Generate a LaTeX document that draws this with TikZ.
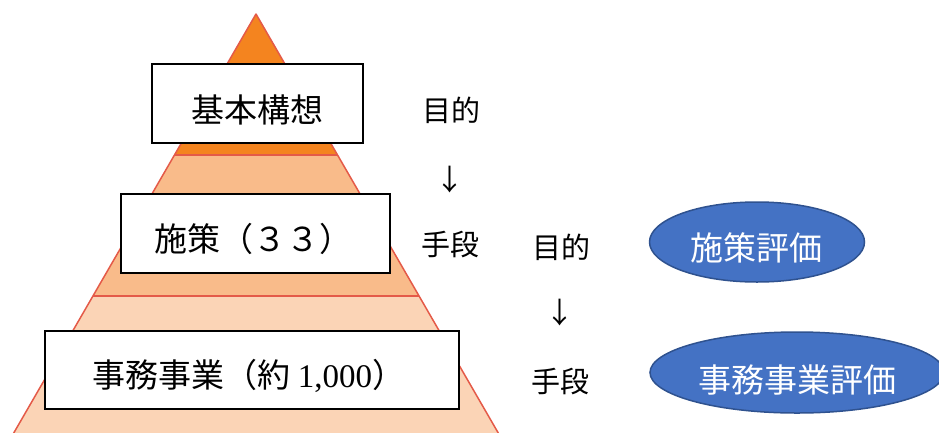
\documentclass[tikz,border=0pt]{standalone}
\usepackage{fontspec}
\setmainfont{Liberation Serif}
\newfontfamily\jp{Noto Sans CJK JP}
\definecolor{layA}{HTML}{F4841F}
\definecolor{layB}{HTML}{F9BB8A}
\definecolor{layC}{HTML}{FBD4B6}
\definecolor{edgecol}{HTML}{E45A48}
\definecolor{ellfill}{HTML}{4472C4}
\definecolor{elldraw}{HTML}{2F528F}
\tikzset{
  layer/.style={draw=edgecol, line width=1.5pt, line join=round},
  boxnode/.style={draw=black, fill=white, line width=2.8pt, rectangle, inner sep=0pt},
  boxtext/.style={font=\jp\fontsize{33}{38}\selectfont, inner sep=0pt},
  sidetext/.style={font=\jp\fontsize{29}{34}\selectfont, inner sep=0pt},
  evalnode/.style={ellipse, fill=ellfill, draw=elldraw, line width=1.5pt, inner sep=0pt},
  evaltext/.style={font=\jp\fontsize{33}{38}\selectfont, text=white, inner sep=0pt}
}
\usetikzlibrary{shapes.geometric}
\begin{document}
\begin{tikzpicture}[x=1pt,y=-1pt]
\clip (0,0) rectangle (939,432);
\useasboundingbox (0,0) rectangle (939,432);
% pyramid layers
\fill[layC] (93,296) -- (419,296) -- (500,436) -- (12,436) -- cycle;
\fill[layB] (174.4,155) -- (337.6,155) -- (419,296) -- (93,296) -- cycle;
\fill[layA] (256,14) -- (337.6,155) -- (174.4,155) -- cycle;
\draw[layer] (93,296) -- (419,296);
\draw[layer] (174.4,155) -- (337.6,155);
\draw[layer] (12,436) -- (256,14) -- (500,436);
% boxes
\node[boxnode, minimum width=211pt, minimum height=79pt] (b1) at (257.5,103.5) {};
\node[boxtext] (t1) at (257,110) {基本構想};
\node[boxnode, minimum width=269pt, minimum height=79pt] (b2) at (255.5,233.5) {};
\node[boxtext] (t2) at (253,239) {施策（３３）};
\node[boxnode, minimum width=414pt, minimum height=78pt] (b3) at (252,370) {};
\node[boxtext] (t3) at (249,376) {事務事業（約\hspace{7pt}{\rmfamily\fontsize{33}{38}\selectfont 1,000}）};
% side labels
\node[sidetext] (p1) at (451,110) {目的};
\node[sidetext] (a1) at (450,180) {↓};
\node[sidetext] (m1) at (450,245) {手段};
\node[sidetext] (p2) at (561,247) {目的};
\node[sidetext] (a2) at (560,313) {↓};
\node[sidetext] (m2) at (560,382) {手段};
% evaluation ellipses
\node[evalnode, minimum width=215pt, minimum height=80pt] (e1) at (757,242) {};
\node[evaltext] (et1) at (756,248) {施策評価};
\node[evalnode, minimum width=294pt, minimum height=81pt] (e2) at (797,372.5) {};
\node[evaltext] (et2) at (797,380) {事務事業評価};
\end{tikzpicture}
\end{document}
